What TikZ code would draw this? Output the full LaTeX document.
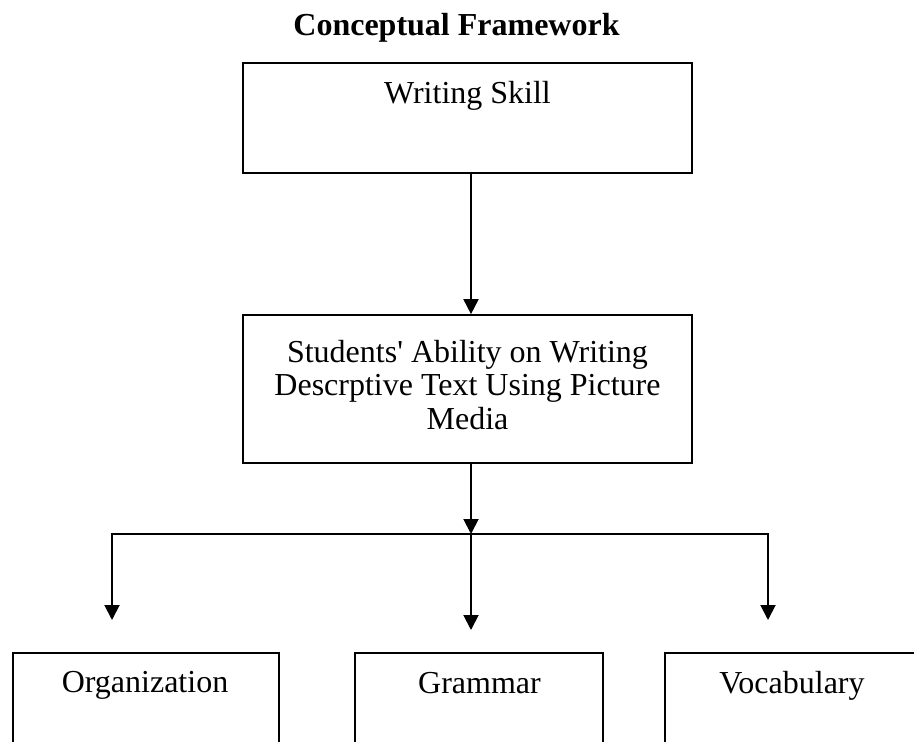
\documentclass[tikz,border=0pt]{standalone}
\usepackage{fontspec}
\newfontfamily\tnr{Liberation Serif}
\usetikzlibrary{arrows.meta}
\begin{document}
\begin{tikzpicture}[x=1pt,y=-1pt,
  boxst/.style={draw=black, line width=1.7pt, inner sep=0pt},
  lbl/.style={font=\tnr\fontsize{32}{33.3}\selectfont, inner sep=0pt, align=center},
  conn/.style={line width=1.9pt},
  arr/.style={conn, -{Triangle[width=15pt,length=15pt]}}]
\useasboundingbox (0,0) rectangle (914,742);
\fill[white] (0,0) rectangle (914,742);
\clip (0,0) rectangle (914,742);
% title
\node[lbl, font=\tnr\bfseries\fontsize{32}{34}\selectfont, anchor=base] (title) at (456.5,35) {Conceptual Framework};
% boxes
\node[boxst, minimum width=449pt, minimum height=110pt] (ws) at (467.5,118) {};
\node[lbl, anchor=base] (wst) at (467.5,103) {Writing Skill};
\node[boxst, minimum width=449pt, minimum height=148pt] (mid) at (467.5,389) {};
\node[lbl, anchor=north] (midt) at (467.5,340) {Students' Ability on Writing\\Descrptive Text Using Picture\\Media};
\node[boxst, minimum width=266pt, minimum height=167pt] (org) at (146,736.5) {};
\node[lbl, anchor=base] (orgt) at (145,692) {Organization};
\node[boxst, minimum width=248pt, minimum height=167pt] (gram) at (479,736.5) {};
\node[lbl, anchor=base] (gramt) at (479.5,693) {Grammar};
\node[boxst, minimum width=254pt, minimum height=167pt] (voc) at (792,736.5) {};
\node[lbl, anchor=base] (voct) at (792,693) {Vocabulary};
% connectors
\coordinate (j) at (471,534);
\coordinate (hl) at (112,534);
\coordinate (hr) at (768,534);
\coordinate (a1) at (112,620);
\coordinate (a2) at (471,630);
\coordinate (a3) at (768,620);
\draw[arr] ([xshift=3.5pt]ws.south) -- ([xshift=3.5pt]mid.north);
\draw[arr] ([xshift=3.5pt]mid.south) -- (j);
\draw[conn, line cap=rect] (hl) -- (hr);
\draw[arr] (hl) -- (a1);
\draw[arr] (j) -- (a2);
\draw[arr] (hr) -- (a3);
\end{tikzpicture}
\end{document}
